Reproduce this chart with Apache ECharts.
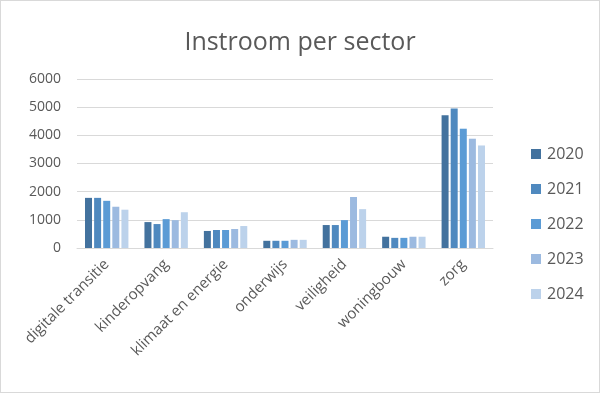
<!DOCTYPE html>
<html><head><meta charset="utf-8">
<script src="https://cdn.jsdelivr.net/npm/echarts@6/dist/echarts.min.js"></script>
<style>html,body{margin:0;padding:0;background:#fff}#c{width:600px;height:393px;box-sizing:border-box;border:1px solid #d9d9d9}</style>
</head><body><div id="c"></div>
<script>
const categories = ["digitale transitie","kinderopvang","klimaat en energie","onderwijs","veiligheid","woningbouw","zorg"];
const years = ["2020","2021","2022","2023","2024"];
const v2020 = [1780, 920, 605, 256, 815, 400, 4710];
const v2021 = [1780, 850, 640, 256, 815, 360, 4950];
const v2022 = [1675, 1025, 640, 256, 990, 360, 4235];
const v2023 = [1465, 990, 675, 290, 1810, 400, 3880];
const v2024 = [1360, 1270, 780, 290, 1380, 400, 3640];
const yTicks = [0, 1000, 2000, 3000, 4000, 5000, 6000];
const colors = ["#43729e", "#4f89bf", "#5b9bd5", "#9cbae0", "#bcd2eb"];
const values = [v2020, v2021, v2022, v2023, v2024];
const font = "'Open Sans', 'Liberation Sans', sans-serif";
const chart = echarts.init(document.getElementById('c'));
chart.setOption({
  animation: false,
  color: colors,
  title: { text: "Instroom per sector", left: 'center', top: 24, textStyle: { fontFamily: font, fontSize: 25, fontWeight: 'normal', color: '#595959' } },
  grid: { left: 76, right: 106, top: 78, bottom: 144 },
  legend: { orient: 'vertical', left: 525, top: 140, itemWidth: 10, itemHeight: 10, itemGap: 19, icon: 'rect',
    textStyle: { fontFamily: font, fontSize: 16, color: '#595959', padding: [0,0,0,1] }, data: years },
  xAxis: { type: 'category', data: categories,
    axisLine: { lineStyle: { color: '#d9d9d9' } }, axisTick: { show: false },
    axisLabel: { rotate: 45, interval: 0, fontFamily: font, fontSize: 15, color: '#595959', margin: 14 } },
  yAxis: { type: 'value', min: yTicks[0], max: yTicks[yTicks.length-1], interval: 1000,
    axisLine: { show: false }, axisTick: { show: false },
    splitLine: { lineStyle: { color: '#d9d9d9' } },
    axisLabel: { fontFamily: font, fontSize: 14, color: '#595959', margin: 16, formatter: v => String(v) } },
  series: years.map((y, i) => ({ name: y, type: 'bar', data: values[i], barWidth: 7, barGap: '30%' }))
});
</script></body></html>
